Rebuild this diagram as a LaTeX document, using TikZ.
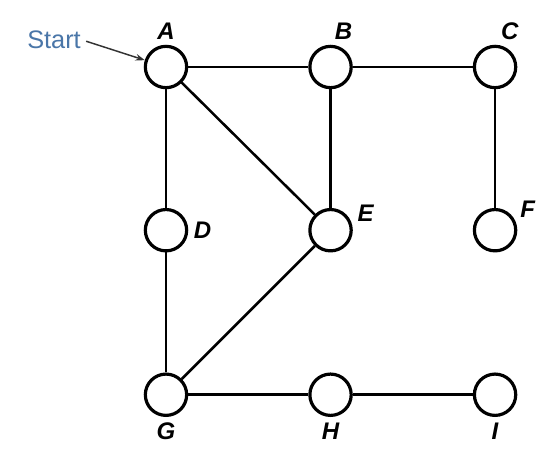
\documentclass[tikz,border=0pt]{standalone}
\usepackage{fontspec}
\setsansfont{Liberation Sans}
\usetikzlibrary{arrows.meta,positioning}
\definecolor{azul}{RGB}{74,118,168}

\begin{document}
\begin{tikzpicture}[x=0.75pt,y=-0.75pt,font=\sffamily,>=Stealth,
 vertice/.style={circle,draw=black,line width=2.4pt,fill=white,minimum size=31pt,inner sep=0pt},
 etiqueta/.style={font=\sffamily\bfseries\itshape\fontsize{18}{21}\selectfont,inner sep=1pt,label distance=3pt},
 arista/.style={line width=1.9pt},
 inicio/.style={text=azul,font=\sffamily\fontsize{19}{23}\selectfont,inner sep=1pt}]
\useasboundingbox (0,0) rectangle (554,451);
\node[vertice,label={[etiqueta]above:A}] (A) at (166,67) {};
\node[vertice,right=90pt of A,label={[etiqueta]84:B}] (B) {};
\node[vertice,right=90pt of B,label={[etiqueta]80:C}] (C) {};
\node[vertice,below=89pt of A,label={[etiqueta]right:D}] (D) {};
\node[vertice,right=90pt of D,label={[etiqueta]15:E}] (E) {};
\node[vertice,right=90pt of E,label={[etiqueta]25:F}] (F) {};
\node[vertice,below=90pt of D,label={[etiqueta]below:G}] (G) {};
\node[vertice,right=90pt of G,label={[etiqueta]below:H}] (H) {};
\node[vertice,right=90pt of H,label={[etiqueta]below:I}] (I) {};
\node[inicio] (start) at (54,40) {Start};
% aristas del grafo
\draw[arista] (A)--(B);
\draw[arista] (B)--(C);
\draw[arista] (A)--(D);
\draw[arista] (A)--(E);
\draw[arista] (B)--(E);
\draw[arista] (C)--(F);
\draw[arista] (D)--(G);
\draw[arista] (E)--(G);
\draw[arista] (G)--(H);
\draw[arista] (H)--(I);
\draw[-{Stealth[length=7pt,width=5pt]},line width=1.1pt,draw=black!80,shorten <=3pt] (start.east)--(A);
\end{tikzpicture}
\end{document}
